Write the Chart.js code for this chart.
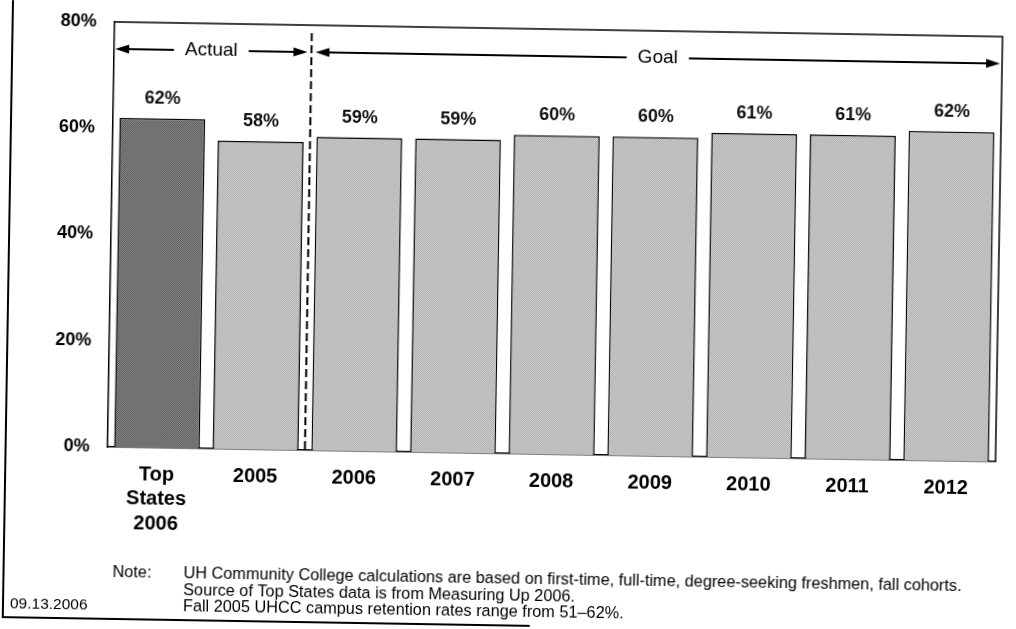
<!DOCTYPE html>
<html>
<head>
<meta charset="utf-8">
<title>Retention Rates</title>
<script src="https://cdn.jsdelivr.net/npm/chart.js@4"></script>
<style>
  html, body { margin: 0; padding: 0; background: #fff; overflow: hidden; }
  #wrap { width: 1016px; height: 629px; transform: rotate(0.95deg); transform-origin: 0 0; }
</style>
</head>
<body>
<div id="wrap"><canvas id="retentionChart" width="1016" height="629"></canvas></div>
<script>
const categories = [["Top", "States", "2006"], "2005", "2006", "2007", "2008", "2009", "2010", "2011", "2012"];
const rates = [62, 58, 59, 59, 60, 60, 61, 61, 62];
const yTicks = [0, 20, 40, 60, 80];
const noteLines = [
    "UH Community College calculations are based on first-time, full-time, degree-seeking freshmen, fall cohorts.",
    "Source of Top States data is from Measuring Up 2006.",
    "Fall 2005 UHCC campus retention rates range from 51\u201362%."
];
const dateStamp = "09.13.2006";

const FONT = "'Liberation Sans', Arial, sans-serif";

// 2x2 checker to give the bars a halftone look
function makeTexture(c1, c2) {
    const t = document.createElement("canvas");
    t.width = 2; t.height = 2;
    const g = t.getContext("2d");
    g.fillStyle = c1; g.fillRect(0, 0, 2, 2);
    g.fillStyle = c2; g.fillRect(0, 0, 1, 1); g.fillRect(1, 1, 1, 1);
    return g.createPattern(t, "repeat");
}

const ctx = document.getElementById("retentionChart").getContext("2d");
const darkFill = makeTexture("#575757", "#8c8c8c");
const lightFill = makeTexture("#a9a9a9", "#d4d4d4");

function arrowHead(g, x, y, dir) {
    g.beginPath();
    g.moveTo(x, y);
    g.lineTo(x - dir * 14, y - 4.5);
    g.lineTo(x - dir * 14, y + 4.5);
    g.closePath();
    g.fill();
}

// frame, Actual/Goal markers, value labels and notes
const decorations = {
    id: "decorations",
    beforeDatasetsDraw(chart) {
        const { ctx: g, chartArea: a } = chart;
        g.save();
        g.strokeStyle = "#000";
        g.lineWidth = 1.5;
        g.beginPath();
        g.moveTo(a.left, a.top);
        g.lineTo(a.right, a.top);
        g.lineTo(a.right, a.bottom);
        g.stroke();
        g.restore();
    },
    afterDatasetsDraw(chart) {
        const { ctx: g, chartArea: a, scales: { x } } = chart;
        const meta = chart.getDatasetMeta(0);
        g.save();

        // value labels
        g.fillStyle = "#111";
        g.font = "bold 18px " + FONT;
        g.textAlign = "center";
        g.textBaseline = "middle";
        meta.data.forEach((bar, i) => {
            g.fillText(rates[i] + "%", bar.x, bar.y - 20);
        });

        // dashed divider between actual and goal years
        const divX = (x.getPixelForValue(1) + x.getPixelForValue(2)) / 2;
        g.strokeStyle = "#000";
        g.lineWidth = 2;
        g.setLineDash([8, 4]);
        g.beginPath();
        g.moveTo(divX, a.top + 8);
        g.lineTo(divX, a.bottom);
        g.stroke();
        g.setLineDash([]);

        // Actual / Goal span arrows
        const ay = a.top + 27;
        g.font = "19px " + FONT;
        g.fillStyle = "#000";
        g.lineWidth = 1.8;
        const span = (x0, x1, label) => {
            const mid = (x0 + x1) / 2;
            const half = g.measureText(label).width / 2 + 11;
            g.beginPath();
            g.moveTo(x0 + 4, ay); g.lineTo(mid - half, ay);
            g.moveTo(mid + half, ay); g.lineTo(x1 - 4, ay);
            g.stroke();
            arrowHead(g, x0, ay, -1);
            arrowHead(g, x1, ay, 1);
            g.fillText(label, mid, ay);
        };
        span(a.left + 1, divX - 4, "Actual");
        span(divX + 4, a.right - 2, "Goal");

        // outer page frame
        g.lineWidth = 2;
        g.beginPath();
        g.moveTo(13, 0);
        g.lineTo(13, 617);
        g.lineTo(540, 617);
        g.stroke();

        // notes
        g.font = "16.3px " + FONT;
        g.textAlign = "left";
        g.textBaseline = "middle";
        g.fillText("Note:", a.left + 7, 571);
        noteLines.forEach((line, i) => g.fillText(line, 193, 571 + i * 16.5));
        g.font = "15.5px " + FONT;
        g.fillText(dateStamp, 20, 604);
        g.restore();
    }
};

new Chart(ctx, {
    type: "bar",
    data: {
        labels: categories,
        datasets: [{
            data: rates,
            backgroundColor: rates.map((_, i) => i === 0 ? darkFill : lightFill),
            borderColor: "#000",
            borderWidth: { top: 1.5, left: 1.5, right: 1.5, bottom: 0 },
            borderSkipped: false,
            barPercentage: 0.87,
            categoryPercentage: 1.0
        }]
    },
    options: {
        responsive: false,
        animation: false,
        layout: { padding: { left: 20, right: 13, top: 20, bottom: 0 } },
        plugins: { legend: { display: false }, tooltip: { enabled: false } },
        scales: {
            x: {
                grid: { display: false, drawTicks: false },
                border: { display: true, color: "#000", width: 1.5 },
                ticks: {
                    color: "#000",
                    font: { family: FONT, size: 20, weight: "bold", lineHeight: 1.23 },
                    padding: 15,
                    maxRotation: 0,
                    autoSkip: false
                },
                afterFit(scale) { scale.height = 184; }
            },
            y: {
                min: yTicks[0],
                max: yTicks[yTicks.length - 1],
                grid: { display: false, drawTicks: false },
                border: { display: true, color: "#000", width: 1.5 },
                ticks: {
                    stepSize: yTicks[1] - yTicks[0],
                    color: "#000",
                    font: { family: FONT, size: 18, weight: "bold" },
                    padding: 18,
                    callback: v => v + "%"
                },
                afterFit(scale) {
                    scale.width = 95;
                    scale.paddingTop = 0;
                    scale.paddingBottom = 0;
                }
            }
        }
    },
    plugins: [decorations]
});
</script>
</body>
</html>
